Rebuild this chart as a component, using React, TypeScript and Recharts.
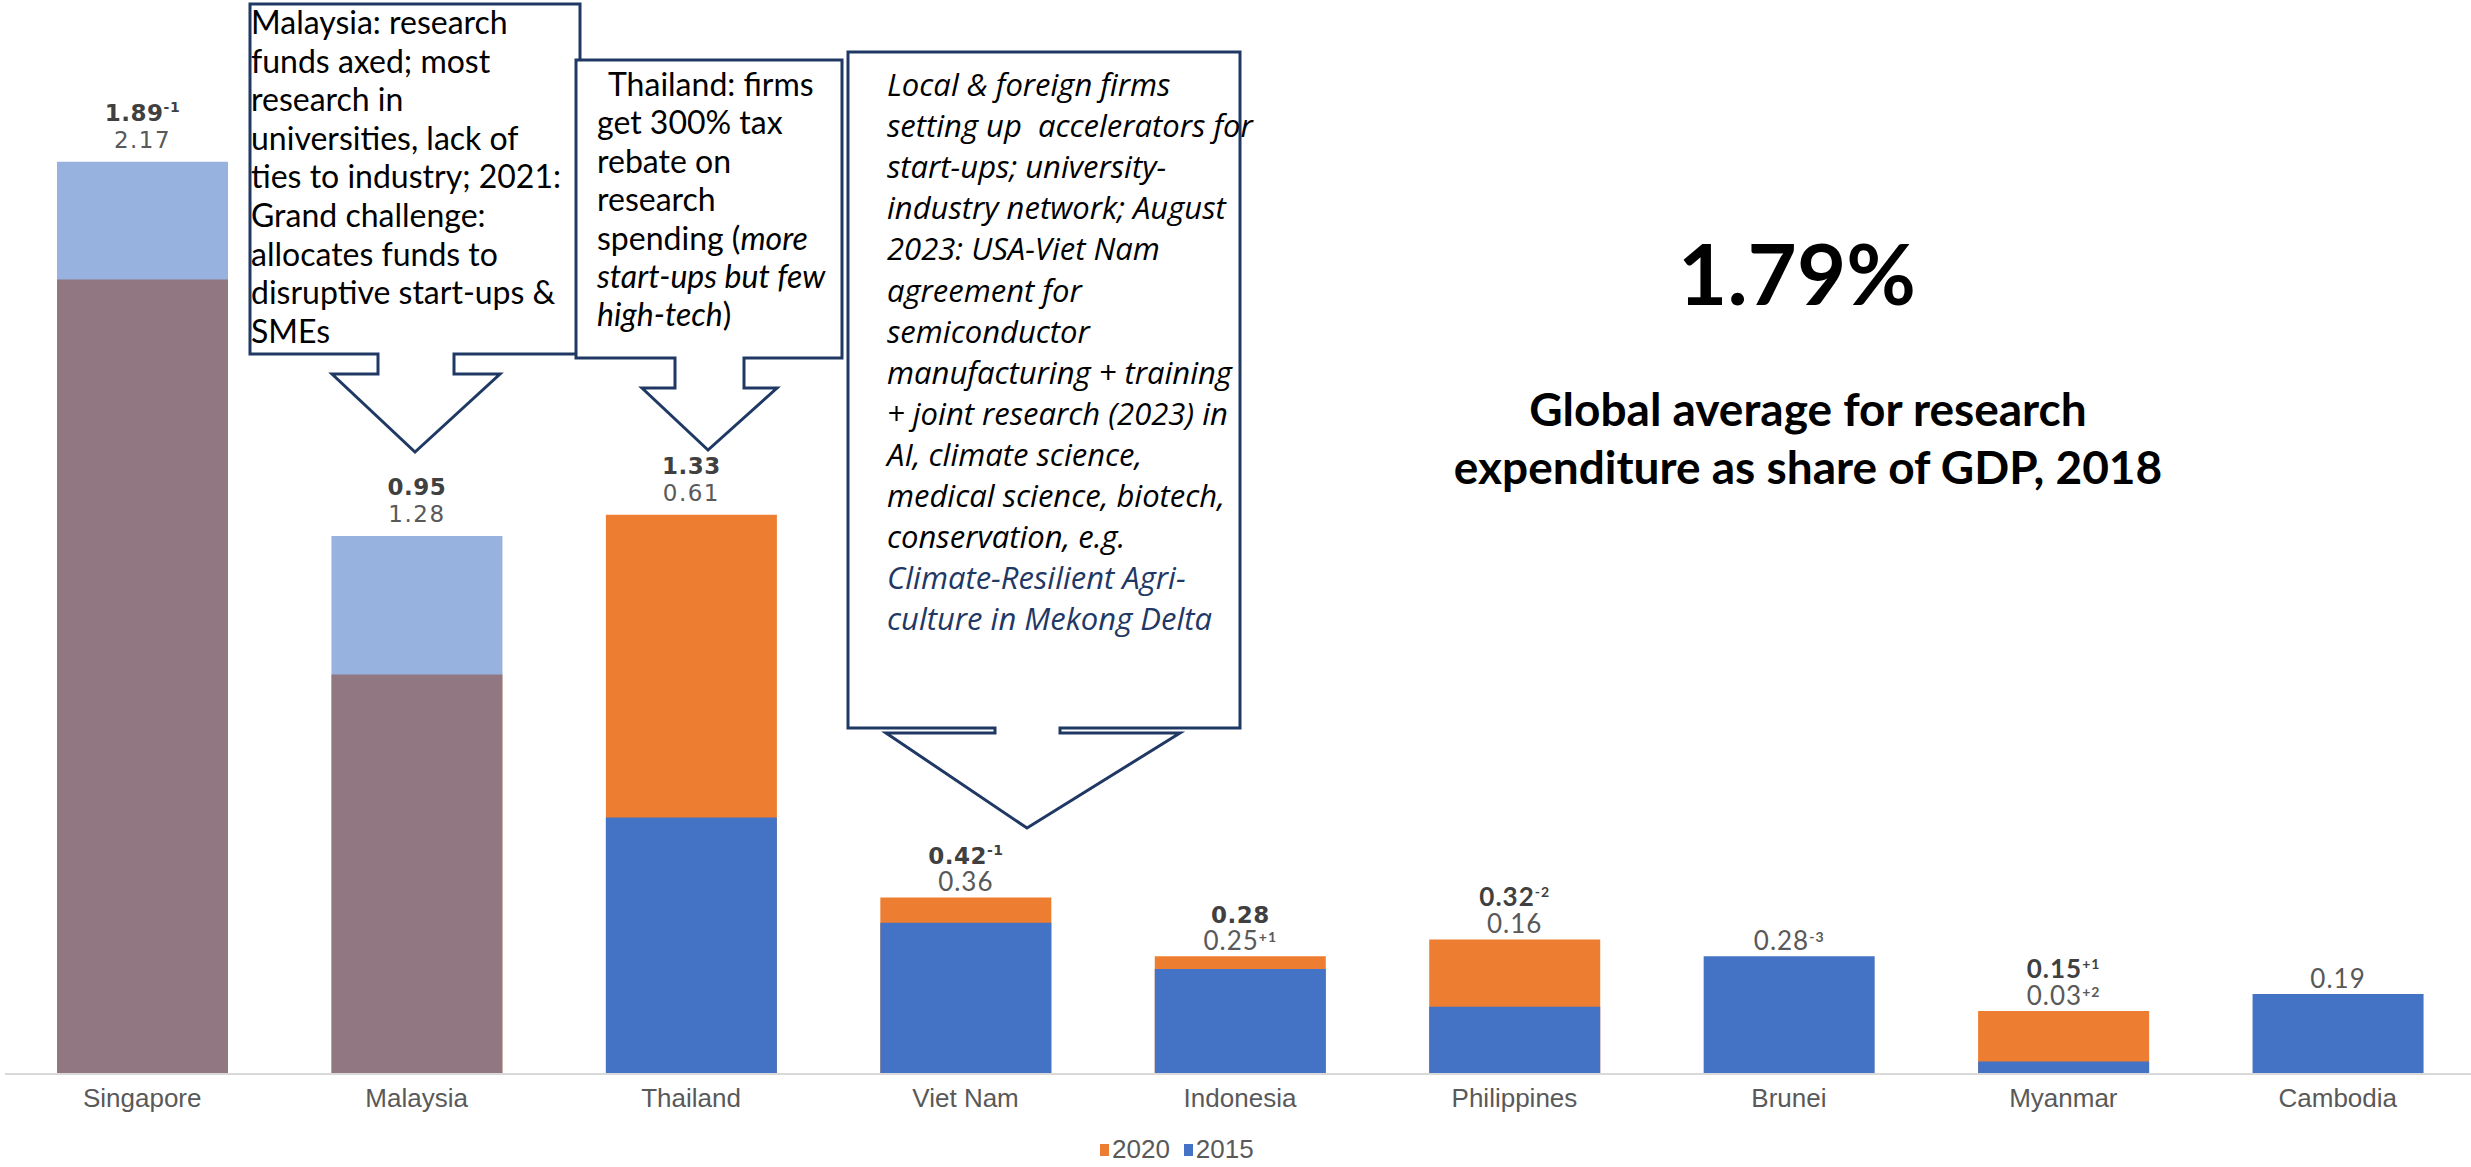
import React from "react";
import { BarChart, Bar, XAxis, YAxis, Cell, LabelList, Legend } from "recharts";

// Gross spending on research as % of GDP
const countries = ["Singapore", "Malaysia", "Thailand", "Viet Nam", "Indonesia", "Philippines", "Brunei", "Myanmar", "Cambodia"];
const gerd2020: (number | null)[] = [1.89, 0.95, 1.33, 0.42, 0.28, 0.32, null, 0.15, null];
const gerd2015: number[] = [2.17, 1.28, 0.61, 0.36, 0.25, 0.16, 0.28, 0.03, 0.19];
// year offsets printed as superscripts after the values
const note2020 = ["-1", "", "", "-1", "", "-2", "", "+1", ""];
const note2015 = ["", "", "", "", "+1", "", "-3", "+2", ""];
const globalAverage = 1.79;

const ORANGE = "#ED7D31";
const BLUE = "#4472C4";
const NAVY = "#1F3864";

// 2015 bars drawn see-through where they sit in front of a lower 2020 value
const translucent = new Set(["Singapore", "Malaysia"]);
// labels set in the wide sans face, the rest in the narrower one
const wide2020 = new Set(["Singapore", "Malaysia", "Thailand", "Viet Nam", "Indonesia"]);
const wide2015 = new Set(["Singapore", "Malaysia", "Thailand"]);

const data = countries.map((country, i) => ({
  country,
  y2020: gerd2020[i],
  y2015: gerd2015[i],
}));

const WIDE = "'DejaVu Sans', Verdana, sans-serif";
const NARROW = "Lato, Carlito, sans-serif";

function labelFont(wide: boolean, bold: boolean) {
  return wide
    ? { fontFamily: WIDE, fontSize: 23, letterSpacing: bold ? 0.5 : 1.5 }
    : { fontFamily: NARROW, fontSize: 26, letterSpacing: 1 };
}

const ValueLabel = (props: any) => {
  const { x, y, width, height, index } = props;
  const v15 = gerd2015[index];
  const v20 = gerd2020[index];
  const base = y + height;
  const perUnit = Math.abs(height) / v15;
  const peak = Math.max(v15, v20 ?? 0);
  const top = base - peak * perUnit;
  const cx = x + width / 2;
  const name = countries[index];
  const lowWide = wide2015.has(name);
  const lowY = top - (lowWide ? 14 : 6);
  const lines = [];
  if (v20 != null) {
    lines.push(
      <text key="a" x={cx} y={lowY - 27} textAnchor="middle" fontWeight="bold" fill="#404040" {...labelFont(wide2020.has(name), true)}>
        {v20.toFixed(2)}
        {note2020[index] && (
          <tspan fontSize={14} dy={-9}>{note2020[index]}</tspan>
        )}
      </text>
    );
  }
  lines.push(
    <text key="b" x={cx} y={lowY} textAnchor="middle" fill="#595959" {...labelFont(lowWide, false)}>
      {v15.toFixed(2)}
      {note2015[index] && (
        <tspan fontSize={14} fontWeight="bold" dy={-8}>{note2015[index]}</tspan>
      )}
    </text>
  );
  return <g>{lines}</g>;
};

const CountryTick = ({ x, y, payload }: any) => (
  <text x={x} y={y + 25} textAnchor="middle" fontFamily="'Liberation Sans', Arial, sans-serif" fontSize={26} fill="#595959">
    {payload.value}
  </text>
);

const legendItems = [
  { label: "2020", color: ORANGE },
  { label: "2015", color: BLUE },
];

const LegendContent = () => (
  <div style={{ display: "flex", alignItems: "center", fontFamily: "'Liberation Sans', Arial, sans-serif", fontSize: 26, color: "#595959" }}>
    {legendItems.map((it) => (
      <span key={it.label} style={{ display: "flex", alignItems: "center", marginRight: 14 }}>
        <span style={{ width: 9, height: 12, background: it.color, marginRight: 3 }} />
        {it.label}
      </span>
    ))}
  </div>
);

const boxText = { fontFamily: NARROW, fontSize: 32, fill: "#000" };
const vnText = { fontFamily: "'Open Sans', sans-serif", fontSize: 31, fontStyle: "italic" as const, fill: "#000" };

const malaysiaNote = [
  "Malaysia: research",
  "funds axed; most",
  "research in",
  "universities, lack of",
  "ties to industry; 2021:",
  "Grand challenge:",
  "allocates funds to",
  "disruptive start-ups &",
  "SMEs",
];

const vietNamNote = [
  "Local & foreign firms",
  "setting up  accelerators for",
  "start-ups; university-",
  "industry network; August",
  "2023: USA-Viet Nam",
  "agreement for",
  "semiconductor",
  "manufacturing + training",
  "+ joint research (2023) in",
  "AI, climate science,",
  "medical science, biotech,",
  "conservation, e.g.",
];
const vietNamLink = ["Climate-Resilient Agri-", "culture in Mekong Delta"];

function Callouts() {
  return (
    <svg width={2471} height={1167} style={{ position: "absolute", left: 0, top: 0, pointerEvents: "none" }}>
      <g fill="#fff" stroke={NAVY} strokeWidth={3} strokeLinejoin="miter">
        <path d="M250,4 H580 V354 H454 V374 H500 L415,452 L332,374 H378 V354 H250 Z" />
        <path d="M576,60 H842 V358 H744 V388 H777 L708,450 L642,388 H675 V358 H576 Z" />
        <path d="M848,52 H1240 V728 H1060 V733 H1180 L1027,828 L886,733 H995 V728 H848 Z" />
      </g>
      {malaysiaNote.map((t, i) => (
        <text key={t} x={251} y={34 + i * 38.6} {...boxText} xmlSpace="preserve">{t}</text>
      ))}
      <g {...boxText}>
        <text x={608} y={96}>Thailand: firms</text>
        <text x={597} y={96 + 38.4}>get 300% tax</text>
        <text x={597} y={96 + 38.4 * 2}>rebate on</text>
        <text x={597} y={96 + 38.4 * 3}>research</text>
        <text x={597} y={96 + 38.4 * 4}>spending (<tspan fontStyle="italic">more</tspan></text>
        <text x={597} y={96 + 38.4 * 5} fontStyle="italic">start-ups but few</text>
        <text x={597} y={96 + 38.4 * 6}><tspan fontStyle="italic">high-tech</tspan>)</text>
      </g>
      {vietNamNote.map((t, i) => (
        <text key={t} x={887} y={96 + i * 41.1} {...vnText} xmlSpace="preserve">{t}</text>
      ))}
      {vietNamLink.map((t, i) => (
        <text key={t} x={887} y={96 + (vietNamNote.length + i) * 41.1} {...vnText} fill={NAVY}>{t}</text>
      ))}
      <g fontFamily={NARROW} fontWeight="bold" fill="#000" textAnchor="middle">
        <text x={1797} y={305} fontSize={85}>{globalAverage.toFixed(2)}%</text>
        <text x={1808} y={426} fontSize={46}>Global average for research</text>
        <text x={1808} y={484} fontSize={46}>expenditure as share of GDP, 2018</text>
      </g>
    </svg>
  );
}

export default function App() {
  return (
    <div style={{ position: "absolute", left: 0, top: 0, width: 2471, height: 1167, overflow: "hidden", background: "#fff" }}>
      <BarChart width={2476} height={1167} data={data} margin={{ top: 23, right: 1, left: 5, bottom: 63 }}>
        <XAxis
          xAxisId="main"
          dataKey="country"
          height={30}
          interval={0}
          tickLine={false}
          axisLine={{ stroke: "#D9D9D9", strokeWidth: 2 }}
          tick={<CountryTick />}
        />
        {/* second band axis so the 2020 bars sit behind the 2015 bars */}
        <XAxis xAxisId="overlay" dataKey="country" hide height={0} />
        <YAxis hide domain={[0, 2.5]} allowDataOverflow />
        <Bar xAxisId="overlay" dataKey="y2020" fill={ORANGE} barSize={171} isAnimationActive={false} />
        <Bar xAxisId="main" dataKey="y2015" barSize={171} isAnimationActive={false}>
          {data.map((d) => (
            <Cell key={d.country} fill={BLUE} fillOpacity={translucent.has(d.country) ? 0.55 : 1} />
          ))}
          <LabelList dataKey="y2015" content={<ValueLabel />} />
        </Bar>
        <Legend
          layout="horizontal"
          verticalAlign="middle"
          align="center"
          content={<LegendContent />}
          wrapperStyle={{ left: 1100, top: 1134, width: "auto" }}
        />
      </BarChart>
      <Callouts />
    </div>
  );
}
